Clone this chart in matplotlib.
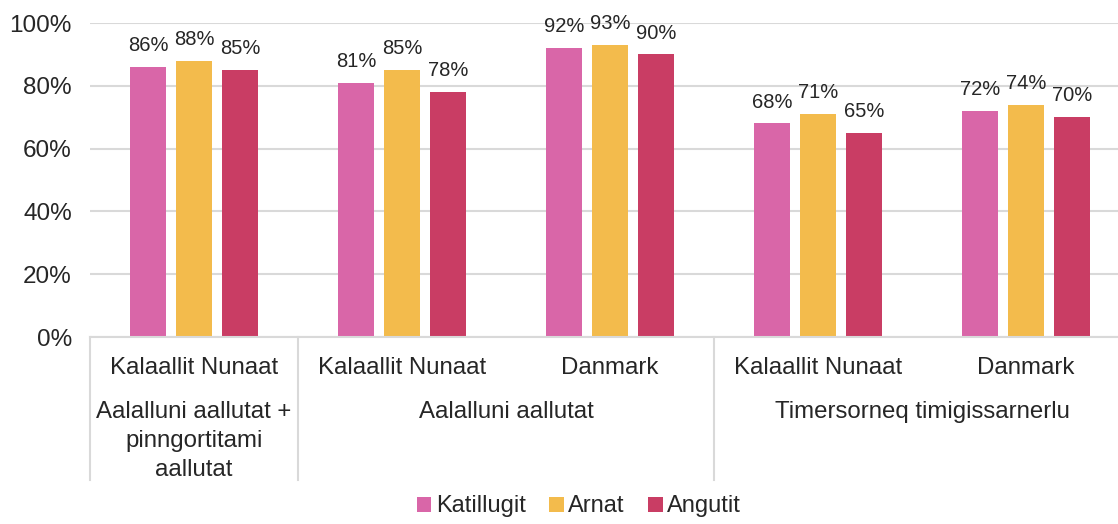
import numpy as np
import matplotlib.pyplot as plt
from matplotlib.lines import Line2D

plt.rcParams['font.family'] = ['Liberation Sans', 'DejaVu Sans']

# dane
series = ['Katillugit', 'Arnat', 'Angutit']
colors = ['#D966A8', '#F3BB4C', '#C93D64']
sub_labels = ['Kalaallit Nunaat', 'Kalaallit Nunaat', 'Danmark', 'Kalaallit Nunaat', 'Danmark']
top_labels = ['Aalalluni aallutat +\npinngortitami\naallutat', 'Aalalluni aallutat', 'Timersorneq timigissarnerlu']
top_spans = [(0, 0), (1, 2), (3, 4)]
katillugit = [86, 81, 92, 68, 72]
arnat = [88, 85, 93, 71, 74]
angutit = [85, 78, 90, 65, 70]
values = [katillugit, arnat, angutit]

text_col = '#262626'
grid_col = '#D9D9D9'

fig = plt.figure(figsize=(11.18, 5.24), dpi=100)
# obszar wykresu wychodzi lekko poza prawą krawędź (jak w oryginale)
ax = fig.add_axes([90 / 1118, 1 - 337 / 524, 1040 / 1118, 314 / 524])

x = np.arange(len(sub_labels))
w = 0.173
step = 0.221
for i, (name, vals, c) in enumerate(zip(series, values, colors)):
    pos = x + (i - 1) * step
    bars = ax.bar(pos, vals, width=w, color=c, label=name, zorder=3)
    for b, v in zip(bars, vals):
        ax.annotate(f'{v}%', (b.get_x() + b.get_width() / 2, v),
                    xytext=(0, 8.5), textcoords='offset points',
                    ha='center', va='bottom', fontsize=14.5, color=text_col)

ax.set_xlim(-0.5, len(sub_labels) - 0.5)
ax.set_ylim(0, 100)
ax.set_yticks(range(0, 101, 20))
ax.set_yticklabels([f'{t}%' for t in range(0, 101, 20)])
ax.tick_params(axis='y', length=0, pad=13, labelsize=17.5, labelcolor=text_col)
ax.set_xticks([])
ax.grid(axis='y', color=grid_col, linewidth=1.5, zorder=0)
for s in ax.spines.values():
    s.set_visible(False)
ax.axhline(0, color=grid_col, linewidth=1.5, zorder=4, clip_on=False)

# etykiety kategorii (dwa poziomy)
trans = ax.get_xaxis_transform()
for xi, lab in zip(x, sub_labels):
    ax.text(xi, -0.1, lab, transform=trans, ha='center', va='center',
            fontsize=17.3, color=text_col)
for (a, b), lab in zip(top_spans, top_labels):
    ax.text((a + b) / 2, -0.203, lab, transform=trans, ha='center', va='top',
            fontsize=17.3, color=text_col, linespacing=1.42)

for xs in [-0.5, 0.5, 2.5]:
    ax.add_line(Line2D([xs, xs], [0, -0.455], transform=trans, color=grid_col,
                       linewidth=1.5, clip_on=False))

fig.legend(loc='lower center', bbox_to_anchor=(0.518, -0.028), ncol=3, frameon=False,
           fontsize=17, handlelength=0.6, handleheight=0.6, handletextpad=0.2,
           columnspacing=1.0, labelcolor=text_col)

fig.savefig('out.png', dpi=100)
